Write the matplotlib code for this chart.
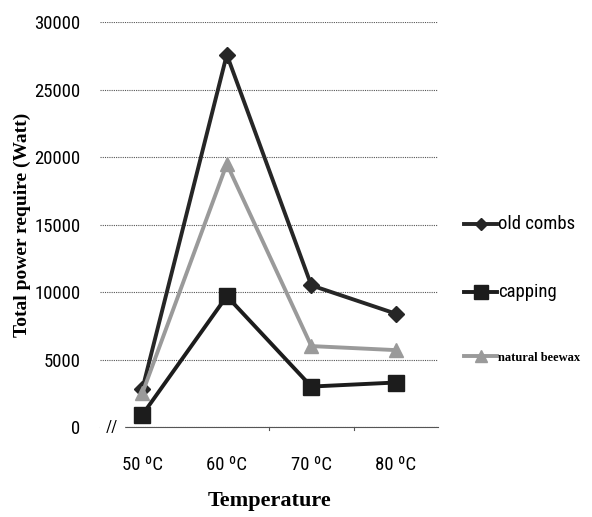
import matplotlib.pyplot as plt
import matplotlib.font_manager as fm

temps = ["50 ºC", "60 ºC", "70 ºC", "80 ºC"]
old_combs = [2800, 27600, 10500, 8400]
capping = [900, 9700, 3000, 3300]
beewax = [2500, 19500, 6000, 5700]

names = {f.name for f in fm.fontManager.ttflist}
narrow = "DejaVu Sans"
for cand in ["Liberation Sans Narrow", "Roboto Condensed", "Open Sans Condensed", "DejaVu Sans Condensed"]:
    if cand in names:
        narrow = cand
        break
tick_size = 13.5 if narrow != "DejaVu Sans" else 11
serif = "Liberation Serif"

fig = plt.figure(figsize=(5.92, 5.17), dpi=100)
ax = fig.add_axes([0.169, 0.174, 0.571, 0.783])

x = list(range(len(temps)))
ax.plot(x, old_combs, color="#262626", lw=2.8, marker="D", ms=8, label="old combs")
ax.plot(x, capping, color="#1c1c1c", lw=2.8, marker="s", ms=12, label="capping")
ax.plot(x, beewax, color="#9a9a9a", lw=2.8, marker="^", ms=10, label="natural beewax")

ax.set_xlim(-0.5, 3.5)
ax.set_ylim(0, 30000)
ax.set_yticks(range(0, 30001, 5000))
ax.set_xticks(x)
ax.set_xticklabels(temps, fontfamily=narrow, fontsize=tick_size)
for t in ax.get_yticklabels():
    t.set_fontfamily(narrow)
    t.set_fontsize(tick_size)
ax.tick_params(axis="x", length=0, pad=21)
ax.tick_params(axis="y", length=0, pad=14)
ax.grid(axis="y", color="#555555", ls=(0, (1, 1)), lw=0.8)
for s in ["top", "right", "left"]:
    ax.spines[s].set_visible(False)
ax.spines["bottom"].set_color("#555555")
ax.spines["bottom"].set_linestyle((0, (1, 1)))
ax.spines["bottom"].set_linewidth(0.8)
ax.set_axisbelow(True)

# small marks on the category axis between groups
for b in [1.5, 2.5]:
    ax.plot([b, b], [0, -250], color="#555555", lw=0.8, clip_on=False)

# axis break mark near the origin
ax.text(-0.36, 0, "//", fontsize=12, ha="center", va="center", fontfamily=narrow,
        backgroundcolor="white")

ax.set_xlabel("Temperature", fontfamily=serif, fontweight="bold", fontsize=16, labelpad=12)
ax.set_ylabel("Total power require (Watt)", fontfamily=serif, fontweight="bold", fontsize=14)
ax.yaxis.set_label_coords(-0.205, 0.5)

leg = ax.legend(loc="center left", bbox_to_anchor=(1.06, 0.34), frameon=False,
                labelspacing=3.6, handlelength=2.4, handletextpad=0.05, borderaxespad=0,
                markerscale=0.8)
texts = leg.get_texts()
texts[0].set_fontfamily(narrow); texts[0].set_fontsize(tick_size)
texts[1].set_fontfamily(narrow); texts[1].set_fontsize(tick_size)
texts[2].set_fontfamily(serif); texts[2].set_fontweight("bold"); texts[2].set_fontsize(9)

fig.savefig("out.png", dpi=100)
